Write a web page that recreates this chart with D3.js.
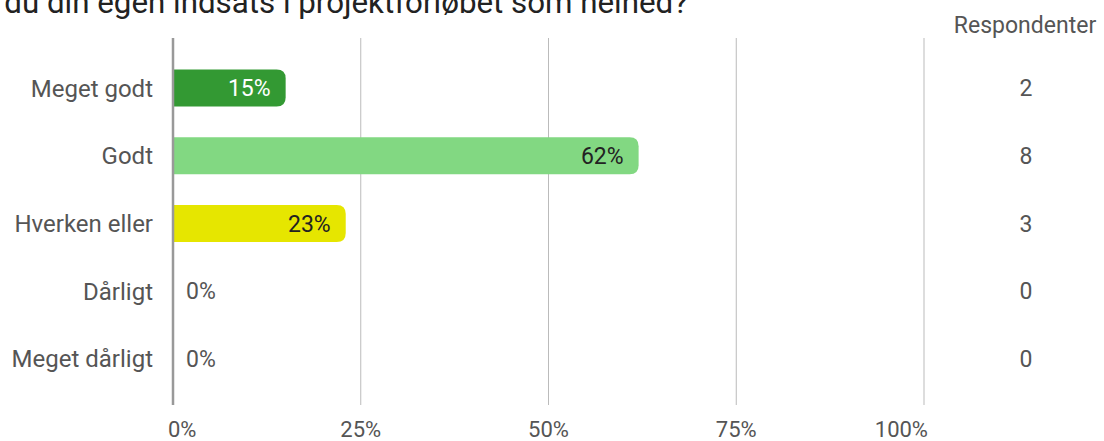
<!DOCTYPE html>
<html><head><meta charset="utf-8">
<script src="https://cdn.jsdelivr.net/npm/d3@7"></script>
<style>body{margin:0;background:#fff;font-family:Roboto,sans-serif}</style>
</head><body><svg id="c" width="1104" height="441"></svg>
<script>
const title = "Hvordan vurderer du din egen indsats i projektforløbet som helhed?";
const categories = ["Meget godt","Godt","Hverken eller","Dårligt","Meget dårligt"];
const percents = [15, 62, 23, 0, 0];
const respondents = [2, 8, 3, 0, 0];
const ticks = [0, 25, 50, 75, 100];
const colors = ["#339933","#82d882","#e6e600","#cccccc","#cccccc"];
const labelColors = ["#ffffff","#222222","#222222","#555555","#555555"];

const svg = d3.select("#c");
const x = d3.scaleLinear().domain([0,100]).range([173,924]);
const y = d3.scaleBand().domain(categories).range([40,407]).paddingInner(0.453).paddingOuter(0.437);

svg.append("text").attr("x",688).attr("y",12.5).attr("text-anchor","end")
  .attr("font-size",31.3).attr("fill","#222").text(title);

svg.append("g").selectAll("line").data(ticks.slice(1)).join("line")
  .attr("x1",d=>x(d)).attr("x2",d=>x(d)).attr("y1",38).attr("y2",405)
  .attr("stroke","#bbbbbb").attr("stroke-width",1);

svg.append("g").selectAll("text").data(ticks).join("text")
  .attr("x",(d,i)=> i===0 ? x(d)-5 : (i===ticks.length-1 ? x(d)+4 : x(d)))
  .attr("y",437)
  .attr("text-anchor",(d,i)=> i===0 ? "start" : (i===ticks.length-1 ? "end" : "middle"))
  .attr("font-size",22).attr("fill","#555").text(d=>d+"%");

const r = 9;
function barPath(d,i){
  const x0 = x(0)+1, x1 = x(d), y0 = y(categories[i]), h = y.bandwidth();
  const rr = Math.min(r, (x1-x0)/2);
  return `M${x0},${y0}H${x1-rr}Q${x1},${y0} ${x1},${y0+rr}V${y0+h-rr}Q${x1},${y0+h} ${x1-rr},${y0+h}H${x0}Z`;
}
svg.append("g").selectAll("path").data(percents.map((v,i)=>({v,i})).filter(d=>d.v>0)).join("path")
  .attr("d",d=>barPath(d.v,d.i)).attr("fill",d=>colors[d.i]);

svg.append("g").selectAll("text").data(percents).join("text")
  .attr("x",(d,i)=> d>0 ? x(d)-15 : x(0)+13)
  .attr("y",(d,i)=>y(categories[i])+y.bandwidth()/2)
  .attr("dy","0.35em")
  .attr("text-anchor",d=>d>0?"end":"start")
  .attr("font-size",23)
  .attr("fill",(d,i)=>labelColors[i])
  .text(d=>d+"%");

svg.append("line").attr("x1",x(0)).attr("x2",x(0)).attr("y1",38).attr("y2",405)
  .attr("stroke","#999").attr("stroke-width",2.5);

svg.append("g").selectAll("text").data(categories).join("text")
  .attr("x",153).attr("y",d=>y(d)+y.bandwidth()/2).attr("dy","0.35em")
  .attr("text-anchor","end").attr("font-size",24).attr("fill","#555").text(d=>d);

svg.append("text").attr("x",1025).attr("y",33).attr("text-anchor","middle")
  .attr("font-size",23).attr("fill","#555").text("Respondenter");

svg.append("g").selectAll("text").data(respondents).join("text")
  .attr("x",1026).attr("y",(d,i)=>y(categories[i])+y.bandwidth()/2).attr("dy","0.35em")
  .attr("text-anchor","middle").attr("font-size",23).attr("fill","#555").text(d=>d);
</script></body></html>
